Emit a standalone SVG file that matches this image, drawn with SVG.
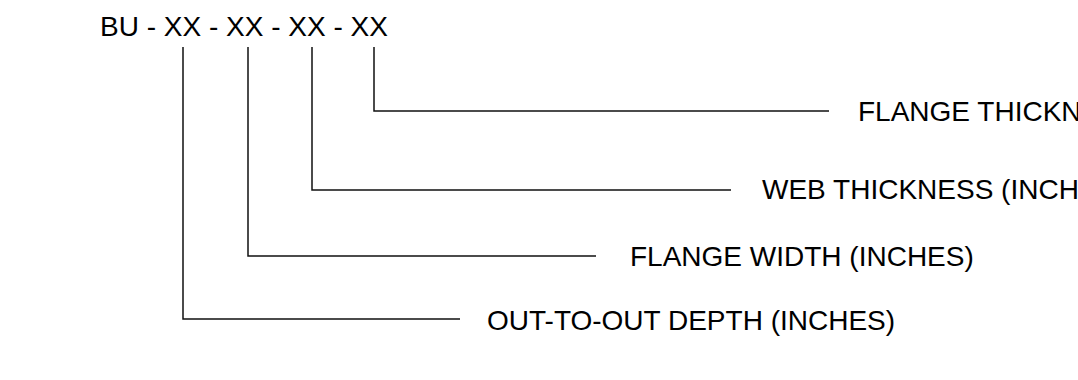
<svg xmlns="http://www.w3.org/2000/svg" width="1078" height="380" viewBox="0 0 1078 380">
  <style>
    .t { font-family: "Liberation Sans", Arial, sans-serif; font-size: 28px; fill: #000; }
    .c { fill: none; stroke: #111; stroke-width: 1.5; }
  </style>
  <rect width="1078" height="380" fill="#fff"/>
  <g id="designation">
    <text class="t" x="100" y="36">BU - XX - XX - XX - XX</text>
  </g>
  <g id="connectors">
    <polyline class="c" points="374,47 374,111 829,111"/>
    <polyline class="c" points="312,47 312,190 731,190"/>
    <polyline class="c" points="248,47 248,256 596,256"/>
    <polyline class="c" points="183,47 183,319 460,319"/>
  </g>
  <g id="flange-thickness">
    <text class="t" x="858" y="121">FLANGE THICKNESS (INCHES)</text>
  </g>
  <g id="web-thickness">
    <text class="t" x="762" y="199">WEB THICKNESS (INCHES)</text>
  </g>
  <g id="flange-width">
    <text class="t" x="630" y="266">FLANGE WIDTH (INCHES)</text>
  </g>
  <g id="depth">
    <text class="t" x="487" y="330">OUT-TO-OUT DEPTH (INCHES)</text>
  </g>
</svg>
